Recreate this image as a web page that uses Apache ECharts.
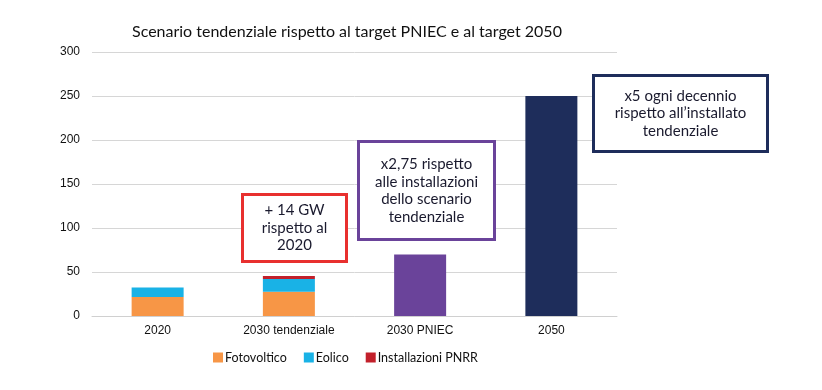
<!DOCTYPE html>
<html><head><meta charset="utf-8">
<script src="https://cdn.jsdelivr.net/npm/echarts@6/dist/echarts.min.js"></script>
<style>html,body{margin:0;padding:0;background:#fff}#c{width:822px;height:390px}</style>
</head><body><div id="c"></div>
<script>
const categories = ['2020', '2030 tendenziale', '2030 PNIEC', '2050'];
const fotovoltaico = [21.5, 27.5, null, null];
const eolico = [11, 14.5, null, null];
const pnrr = [null, 3.5, null, null];
const totale = [null, null, 70, 250];
const yTicks = [0, 50, 100, 150, 200, 250, 300];
const annotations = [
  '+ 14 GW\nrispetto al\n2020',
  'x2,75 rispetto\nalle installazioni\ndello scenario\ntendenziale',
  'x5 ogni decennio\nrispetto all\u2019installato\ntendenziale'
];

const chart = echarts.init(document.getElementById('c'));
const txtFont = 'Lato, "Noto Sans", sans-serif';
function box(x, y, w, h, color, text) {
  return {
    type: 'group', left: x, top: y, z: 100,
    children: [
      { type: 'rect', z: 100, shape: { x: 0, y: 0, width: w, height: h }, style: { fill: '#ffffff', stroke: color, lineWidth: 3 } },
      { type: 'text', z: 101, style: { x: w / 2, y: h / 2, text: text, align: 'center', verticalAlign: 'middle', fontSize: 15, lineHeight: 17.5, fontFamily: txtFont, fill: '#1a1a2e' } }
    ]
  };
}
chart.setOption({
  animation: false,
  title: { text: 'Scenario tendenziale rispetto al target PNIEC e al target 2050', left: 127, top: 19,
    textStyle: { fontSize: 16, fontWeight: 'normal', color: '#111', fontFamily: txtFont } },
  legend: {
    left: 208, top: 346, itemWidth: 10, itemHeight: 10, itemGap: 17, icon: 'rect',
    data: ['Fotovoltico', 'Eolico', 'Installazioni PNRR'],
    textStyle: { fontSize: 12.5, color: '#111', fontFamily: txtFont, padding: [0, 0, 0, -3] }
  },
  grid: { left: 92, right: 205, top: 52, bottom: 74 },
  xAxis: {
    type: 'category', data: categories,
    axisLine: { lineStyle: { color: '#d0d0d0' } }, axisTick: { show: false },
    axisLabel: { fontSize: 12, color: '#111', fontFamily: '"Liberation Sans", Arial, sans-serif', margin: 9 }
  },
  yAxis: {
    type: 'value', min: yTicks[0], max: yTicks[yTicks.length - 1], interval: 50,
    axisLine: { show: false }, axisTick: { show: false },
    splitLine: { lineStyle: { color: '#d6d6d6' } },
    axisLabel: { fontSize: 12, color: '#111', fontFamily: '"Liberation Sans", Arial, sans-serif', margin: 12 }
  },
  series: [
    { name: 'Fotovoltico', type: 'bar', stack: 't', barWidth: 52, data: fotovoltaico, itemStyle: { color: '#F79646' } },
    { name: 'Eolico', type: 'bar', stack: 't', data: eolico, itemStyle: { color: '#19B2E6' } },
    { name: 'Installazioni PNRR', type: 'bar', stack: 't', data: pnrr, itemStyle: { color: '#C2202B' } },
    { name: 'Totale', type: 'bar', stack: 't', data: totale.map((v, i) => v == null ? null : { value: v, itemStyle: { color: i === 2 ? '#6A439A' : '#1E2D5B' } }) }
  ],
  graphic: [
    box(241, 193, 104, 67, '#E8302F', annotations[0]),
    box(357, 140, 136, 98, '#6A439A', annotations[1]),
    box(592, 74, 174, 76, '#1E2D5B', annotations[2])
  ]
});
</script></body></html>
